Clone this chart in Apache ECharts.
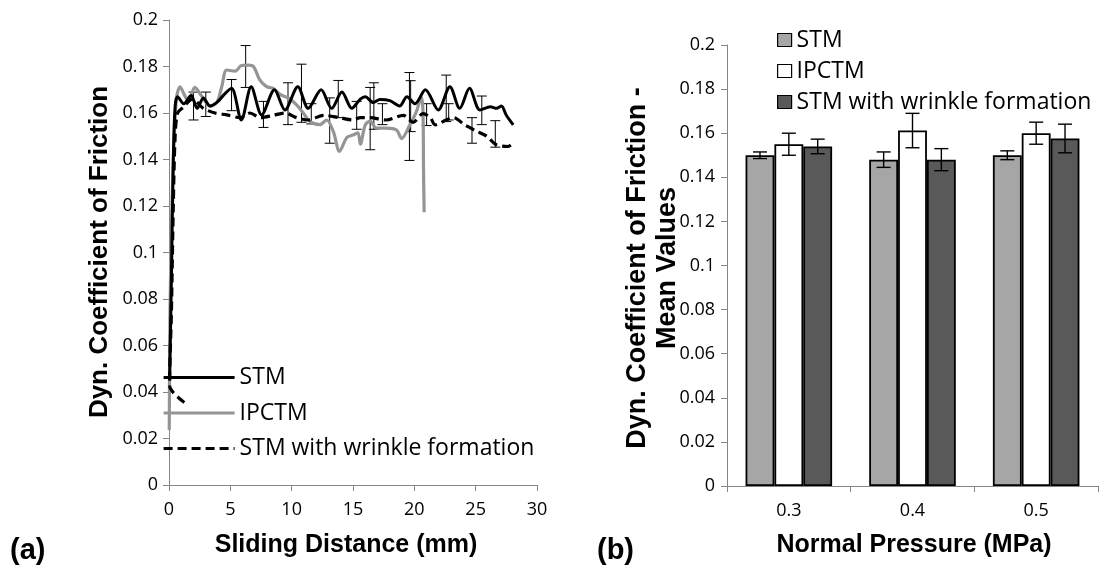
<!DOCTYPE html>
<html>
<head>
<meta charset="utf-8">
<script src="https://cdn.jsdelivr.net/npm/echarts@6/dist/echarts.min.js"></script>
<style>
  html, body { margin: 0; padding: 0; background: #fff; }
  #chart { width: 1104px; height: 571px; }
</style>
</head>
<body>
<div id="chart"></div>
<script>
// (a) friction curves: [sliding distance mm, dynamic coefficient of friction]
const stmCurve = [
  [0.05,0.045],[0.2,0.09],[0.35,0.14],[0.5,0.163],[0.7,0.167],[1.2,0.164],[1.8,0.1675],
  [2.3,0.162],[2.8,0.1665],[3.35,0.163],[4.0,0.165],[4.5,0.168],[5.1,0.1706],[5.9,0.157],
  [6.7,0.1713],[7.55,0.1592],[8.6,0.170],[9.45,0.1613],[10.5,0.1713],[11.35,0.162],
  [12.4,0.170],[13.26,0.162],[14.1,0.169],[14.9,0.162],[15.6,0.166],[16.0,0.167],
  [16.65,0.1645],[17.2,0.1658],[18.0,0.1653],[18.8,0.163],[19.4,0.167],[20.05,0.164],
  [20.9,0.170],[21.95,0.1613],[22.9,0.1713],[23.7,0.162],[24.5,0.1706],[25.35,0.1613],
  [26.2,0.1627],[26.7,0.162],[27.1,0.163],[27.5,0.159],[28.06,0.1549]
];
const ipctmCurve = [
  [0.02,0.0236],[0.08,0.0736],[0.2,0.11],[0.35,0.139],[0.6,0.166],[0.9,0.1713],[1.3,0.1673],
  [1.6,0.165],[2.1,0.171],[2.66,0.1673],[3.34,0.163],[3.9,0.1645],[4.3,0.1713],[4.7,0.1785],
  [5.4,0.178],[5.9,0.1804],[6.46,0.1806],[6.9,0.1799],[7.4,0.1742],[7.96,0.1713],[8.5,0.1706],
  [9.05,0.168],[9.72,0.1665],[10.4,0.1635],[10.95,0.16],[11.5,0.1563],[12.3,0.155],
  [12.85,0.157],[13.4,0.152],[13.9,0.1435],[14.5,0.1495],[15.0,0.1505],[15.4,0.1515],
  [15.6,0.1466],[16.0,0.1549],[16.4,0.1565],[16.9,0.1535],[17.7,0.1535],[18.55,0.1527],
  [18.96,0.149],[19.6,0.1545],[20.2,0.161],[20.55,0.167],[20.7,0.1613],[20.75,0.135],[20.8,0.1173]
];
const wrinkleCurve = [
  [1.25,0.0355],[0.05,0.0428],[0.2,0.075],[0.35,0.12],[0.5,0.15],[0.7,0.16],[1.17,0.1625],
  [1.9,0.166],[2.8,0.162],[3.75,0.16],[4.7,0.1592],[5.8,0.158],[6.6,0.16],[7.47,0.158],
  [8.5,0.159],[9.45,0.16],[10.4,0.158],[11.35,0.157],[12.6,0.159],[13.9,0.158],[15.0,0.157],
  [15.6,0.158],[16.4,0.158],[17.7,0.157],[19.1,0.159],[19.9,0.156],[20.7,0.1597],[21.3,0.158],
  [21.7,0.1549],[22.6,0.157],[23.2,0.158],[24.1,0.1549],[25.1,0.1521],[25.9,0.15],
  [26.7,0.1463],[27.65,0.1456],[28.1,0.1475]
];
// scatter of repeated runs: [distance, lower, upper]
const curveErrors = [
  [2.0,0.157,0.169],[3.0,0.1585,0.169],[5.1,0.161,0.1744],[6.25,0.171,0.189],[7.7,0.1538,0.165],
  [9.7,0.155,0.173],[10.8,0.156,0.181],[11.6,0.1553,0.164],[13.1,0.147,0.1665],[13.8,0.158,0.174],
  [15.3,0.153,0.165],[16.4,0.1442,0.171],[16.7,0.153,0.173],[17.4,0.155,0.164],[19.6,0.1396,0.1774],
  [19.7,0.152,0.1739],[21.0,0.1546,0.164],[22.6,0.1563,0.1763],[22.8,0.157,0.164],
  [24.7,0.147,0.158],[25.5,0.155,0.1673],[26.6,0.1453,0.1567]
];

// (b) mean values per normal pressure
const pressures = ['0.3', '0.4', '0.5'];
const stmMean = [0.150, 0.148, 0.150];
const stmErr = [0.0015, 0.0035, 0.002];
const ipctmMean = [0.155, 0.1612, 0.160];
const ipctmErr = [0.005, 0.0078, 0.005];
const wrinkleMean = [0.154, 0.148, 0.1576];
const wrinkleErr = [0.0033, 0.005, 0.0065];

const seriesNames = ['STM', 'IPCTM', 'STM with wrinkle formation'];
const curveTag = ' curve';

const axisGrey = '#868686';
const tickFont = { color: '#000', fontSize: 18, fontFamily: 'Open Sans' };
const titleFont = '"Liberation Sans", Arial, sans-serif';

function valueAxisBase(extra) {
  return Object.assign({
    axisLine: { show: true, lineStyle: { color: axisGrey, width: 1 } },
    axisTick: { show: true, length: 6, lineStyle: { color: axisGrey } },
    splitLine: { show: false },
    axisLabel: Object.assign({ margin: 11 }, tickFont)
  }, extra);
}

const barGapRatio = 0.30;

function barErrorSeries(k, means, errs) {
  return {
    type: 'custom',
    xAxisIndex: 1, yAxisIndex: 1,
    z: 5,
    data: means.map((m, i) => [i, m, errs[i]]),
    renderItem: function (params, api) {
      const idx = api.value(0), m = api.value(1), e = api.value(2);
      const c = api.coord([idx, m]);
      const band = api.size([1, 0])[0];
      const bw = band * (1 - barGapRatio) / 3;
      const x = c[0] + (k - 1) * bw;
      const yt = api.coord([idx, m + e])[1];
      const yb = api.coord([idx, m - e])[1];
      const cap = 7;
      const st = { stroke: '#000', lineWidth: 1.4 };
      return {
        type: 'group',
        children: [
          { type: 'line', shape: { x1: x, y1: yt, x2: x, y2: yb }, style: st },
          { type: 'line', shape: { x1: x - cap, y1: yt, x2: x + cap, y2: yt }, style: st },
          { type: 'line', shape: { x1: x - cap, y1: yb, x2: x + cap, y2: yb }, style: st }
        ]
      };
    }
  };
}

function barSeries(name, means, color) {
  return {
    name: name,
    type: 'bar',
    xAxisIndex: 1, yAxisIndex: 1,
    data: means,
    barGap: '0%',
    barCategoryGap: (barGapRatio * 100) + '%',
    itemStyle: { color: color, borderColor: '#000', borderWidth: 1.8 }
  };
}

const chart = echarts.init(document.getElementById('chart'), null, { renderer: 'canvas' });

chart.setOption({
  animation: false,
  backgroundColor: '#fff',
  textStyle: { fontFamily: 'Open Sans' },
  grid: [
    { left: 169, top: 20, width: 368, height: 465 },
    { left: 727, top: 45, width: 371, height: 441 }
  ],
  xAxis: [
    valueAxisBase({ gridIndex: 0, type: 'value', min: 0, max: 30, interval: 5,
      axisLabel: Object.assign({ margin: 16 }, tickFont) }),
    {
      gridIndex: 1, type: 'category', data: pressures,
      axisLine: { show: true, lineStyle: { color: axisGrey, width: 1 } },
      axisTick: { show: true, length: 6, lineStyle: { color: axisGrey } },
      axisLabel: Object.assign({ margin: 16 }, tickFont)
    }
  ],
  yAxis: [
    valueAxisBase({ gridIndex: 0, type: 'value', min: 0, max: 0.2, interval: 0.02 }),
    valueAxisBase({ gridIndex: 1, type: 'value', min: 0, max: 0.2, interval: 0.02,
      axisLabel: Object.assign({ margin: 12 }, tickFont) })
  ],
  legend: [
    {
      data: seriesNames.map(n => n + curveTag),
      formatter: n => n.replace(curveTag, ''),
      orient: 'vertical',
      left: 157, top: 361,
      itemWidth: 71, itemHeight: 14, itemGap: 12.5,
      selectedMode: false,
      itemStyle: { opacity: 0 },
      lineStyle: { width: 3.2 },
      textStyle: { color: '#000', fontSize: 23, fontFamily: 'Open Sans', lineHeight: 23 }
    },
    {
      data: seriesNames,
      orient: 'vertical',
      left: 772, top: 23.5,
      icon: 'rect',
      itemWidth: 14, itemHeight: 13, itemGap: 8,
      selectedMode: false,
      itemStyle: { borderWidth: 1.2, borderColor: '#000' },
      textStyle: { color: '#000', fontSize: 23, fontFamily: 'Open Sans', lineHeight: 23 }
    }
  ],
  series: [
    {
      type: 'custom', xAxisIndex: 0, yAxisIndex: 0, z: 1,
      data: curveErrors,
      renderItem: function (params, api) {
        const x = api.coord([api.value(0), api.value(1)])[0];
        const yb = api.coord([api.value(0), api.value(1)])[1];
        const yt = api.coord([api.value(0), api.value(2)])[1];
        const cap = 5;
        const st = { stroke: '#000', lineWidth: 1 };
        return {
          type: 'group',
          children: [
            { type: 'line', shape: { x1: x, y1: yt, x2: x, y2: yb }, style: st },
            { type: 'line', shape: { x1: x - cap, y1: yt, x2: x + cap, y2: yt }, style: st },
            { type: 'line', shape: { x1: x - cap, y1: yb, x2: x + cap, y2: yb }, style: st }
          ]
        };
      }
    },
    {
      name: seriesNames[1] + curveTag, type: 'line', xAxisIndex: 0, yAxisIndex: 0, z: 2,
      data: ipctmCurve, symbol: 'none', smooth: 0.3,
      lineStyle: { color: '#959595', width: 3.2 }, itemStyle: { color: '#959595' }
    },
    {
      name: seriesNames[2] + curveTag, type: 'line', xAxisIndex: 0, yAxisIndex: 0, z: 3,
      data: wrinkleCurve, symbol: 'none', smooth: 0.3,
      lineStyle: { color: '#000', width: 3.2, type: [9, 5] }, itemStyle: { color: '#000' }
    },
    {
      name: seriesNames[0] + curveTag, type: 'line', xAxisIndex: 0, yAxisIndex: 0, z: 4,
      data: stmCurve, symbol: 'none', smooth: 0.3,
      lineStyle: { color: '#000', width: 3 }, itemStyle: { color: '#000' }
    },
    barSeries(seriesNames[0], stmMean, '#a6a6a6'),
    barSeries(seriesNames[1], ipctmMean, '#ffffff'),
    barSeries(seriesNames[2], wrinkleMean, '#595959'),
    barErrorSeries(0, stmMean, stmErr),
    barErrorSeries(1, ipctmMean, ipctmErr),
    barErrorSeries(2, wrinkleMean, wrinkleErr)
  ],
  graphic: [
    { type: 'text', x: 100, y: 252, rotation: Math.PI / 2,
      style: { text: 'Dyn. Coefficient of Friction', align: 'center', verticalAlign: 'middle',
        fontSize: 26, fontWeight: 'bold', fontFamily: titleFont, fill: '#000' } },
    { type: 'text', x: 346, y: 545,
      style: { text: 'Sliding Distance (mm)', align: 'center', verticalAlign: 'middle',
        fontSize: 25, fontWeight: 'bold', fontFamily: titleFont, fill: '#000' } },
    { type: 'text', x: 653, y: 268, rotation: Math.PI / 2,
      style: { text: 'Dyn. Coefficient of Friction -\nMean Values', align: 'center', verticalAlign: 'middle',
        lineHeight: 30, fontSize: 27, fontWeight: 'bold', fontFamily: titleFont, fill: '#000' } },
    { type: 'text', x: 914, y: 545,
      style: { text: 'Normal Pressure (MPa)', align: 'center', verticalAlign: 'middle',
        fontSize: 25, fontWeight: 'bold', fontFamily: titleFont, fill: '#000' } },
    { type: 'text', x: 10, y: 551,
      style: { text: '(a)', align: 'left', verticalAlign: 'middle',
        fontSize: 29, fontWeight: 'bold', fontFamily: titleFont, fill: '#000' } },
    { type: 'text', x: 597, y: 551,
      style: { text: '(b)', align: 'left', verticalAlign: 'middle',
        fontSize: 29, fontWeight: 'bold', fontFamily: titleFont, fill: '#000' } }
  ]
});
</script>
</body>
</html>
